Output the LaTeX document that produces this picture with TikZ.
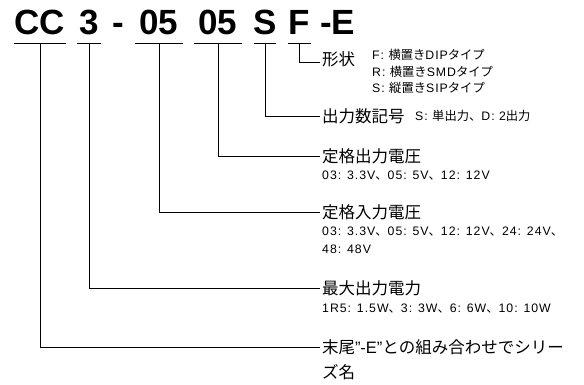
\documentclass[tikz,border=0pt]{standalone}
\usepackage{fontspec}
\setmainfont{Liberation Sans}
\newfontfamily\jp{Noto Sans CJK JP}
\newfontfamily\latsp[LetterSpace=8]{Liberation Sans}
\newcommand\jtext[1]{{\jp #1}}
\begin{document}
\begin{tikzpicture}[x=1pt,y=-1pt,
  title/.style={font=\fontsize{35}{35}\selectfont\bfseries, inner sep=0pt, anchor=base},
  lab/.style={font=\fontsize{16.5}{16.5}\selectfont\jp, inner sep=0pt, outer sep=2pt, anchor=west},
  sub/.style={font=\fontsize{12.3}{12.3}\selectfont\latsp, inner sep=0pt, anchor=base west},
  conn/.style={line width=0.8pt, black},
  uline/.style={line width=1.8pt, black}]
\useasboundingbox (0,0) rectangle (584,385);
% title pieces
\node[title] (t1) at (40,35) {CC};
\node[title] (t2) at (89,35) {3};
\node[title] (tm) at (118.5,35) {-};
\node[title] (t3) at (159,35) {05};
\node[title] (t4) at (218,35) {05};
\node[title] (t5) at (265,35) {S};
\node[title] (t6) at (299,35) {F};
\node[title, anchor=base west] (t7) at (320,35) {-E};
% underlines
\draw[uline] ([xshift=-26pt,yshift=-8.5pt]t1.base) -- ([xshift=26pt,yshift=-8.5pt]t1.base);
\draw[uline] ([xshift=-12pt,yshift=-8.5pt]t2.base) -- ([xshift=12pt,yshift=-8.5pt]t2.base);
\draw[uline] ([xshift=-24pt,yshift=-8.5pt]t3.base) -- ([xshift=24pt,yshift=-8.5pt]t3.base);
\draw[uline] ([xshift=-24pt,yshift=-8.5pt]t4.base) -- ([xshift=24pt,yshift=-8.5pt]t4.base);
\draw[uline] ([xshift=-11pt,yshift=-8.5pt]t5.base) -- ([xshift=11pt,yshift=-8.5pt]t5.base);
\draw[uline] ([xshift=-11.5pt,yshift=-8.5pt]t6.base) -- ([xshift=11.5pt,yshift=-8.5pt]t6.base);
% labels
\node[lab] (l1) at (320,59) {形状};
\node[sub] (s1a) at (372,60) {F: \jtext{横置き}DIP\jtext{タイプ}};
\node[sub] (s1b) at (372,76.5) {R: \jtext{横置き}SMD\jtext{タイプ}};
\node[sub] (s1c) at (372,93) {S: \jtext{縦置き}SIP\jtext{タイプ}};
\node[lab] (l2) at (320,116) {出力数記号};
\node[sub] (s2) at (415,121) {S: \jtext{単出力、}D: 2\jtext{出力}};
\node[lab] (l3) at (320,156) {定格出力電圧};
\node[sub] (s3) at (322,179) {03: 3.3V\jtext{、}05: 5V\jtext{、}12: 12V};
\node[lab] (l4) at (320,212) {定格入力電圧};
\node[sub] (s4a) at (322,235) {03: 3.3V\jtext{、}05: 5V\jtext{、}12: 12V\jtext{、}24: 24V\jtext{、}};
\node[sub] (s4b) at (322,253) {48: 48V};
\node[lab] (l5) at (320,288) {最大出力電力};
\node[sub] (s5) at (322,312) {1R5: 1.5W\jtext{、}3: 3W\jtext{、}6: 6W\jtext{、}10: 10W};
\node[lab] (l6) at (320,347) {末尾{\fontspec{Liberation Sans}”-E”}との組み合わせでシリー};
\node[lab] (l6b) at (320,372) {ズ名};
% connectors
\draw[conn] ([yshift=-9pt]t6.base) |- ([yshift=-3.7pt]l1.west);
\draw[conn] ([yshift=-9pt]t5.base) |- (l2.west);
\draw[conn] ([yshift=-9pt]t4.base) |- (l3.west);
\draw[conn] ([yshift=-9pt]t3.base) |- (l4.west);
\draw[conn] ([yshift=-9pt]t2.base) |- (l5.west);
\draw[conn] ([yshift=-9pt]t1.base) |- (l6.west);
\end{tikzpicture}
\end{document}
